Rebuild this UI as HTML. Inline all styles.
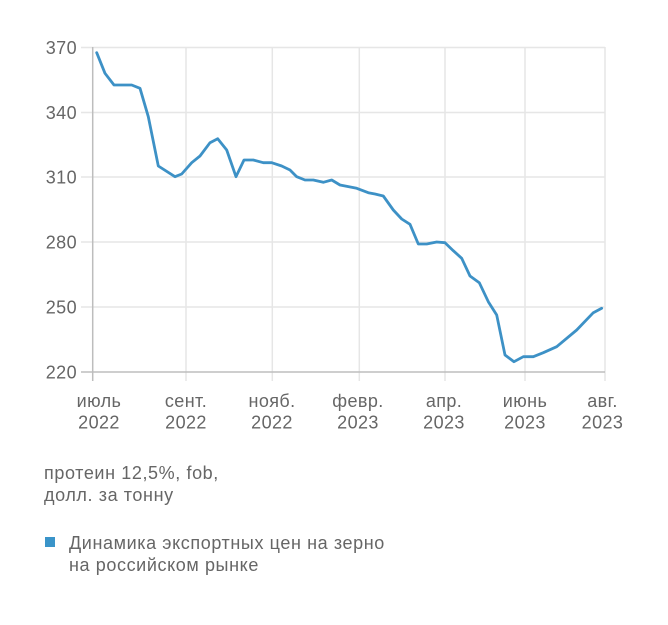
<!DOCTYPE html>
<html>
<head>
<meta charset="utf-8">
<style>
  html, body { margin:0; padding:0; background:#ffffff; }
  body { width:668px; height:620px; overflow:hidden; }
  svg text { font-family: "Liberation Sans", "DejaVu Sans", sans-serif; }
</style>
</head>
<body>
<svg width="668" height="620" viewBox="0 0 668 620" xmlns="http://www.w3.org/2000/svg">
  <rect width="668" height="620" fill="#ffffff"/>
  <!-- horizontal gridlines -->
  <g stroke="#e6e6e6" stroke-width="1.5">
    <line x1="81" y1="47.5" x2="605" y2="47.5"/>
    <line x1="81" y1="112.5" x2="605" y2="112.5"/>
    <line x1="81" y1="177" x2="605" y2="177"/>
    <line x1="81" y1="242" x2="605" y2="242"/>
    <line x1="81" y1="307" x2="605" y2="307"/>
  </g>
  <!-- vertical gridlines -->
  <g stroke="#e6e6e6" stroke-width="1.5">
    <line x1="186" y1="47" x2="186" y2="381"/>
    <line x1="272.3" y1="47" x2="272.3" y2="381"/>
    <line x1="359.3" y1="47" x2="359.3" y2="381"/>
    <line x1="445" y1="47" x2="445" y2="381"/>
    <line x1="525" y1="47" x2="525" y2="381"/>
    <line x1="605" y1="47" x2="605" y2="381"/>
  </g>
  <!-- axes -->
  <g stroke="#bdbdbd" stroke-width="1.5">
    <line x1="92.7" y1="47" x2="92.7" y2="381"/>
    <line x1="81" y1="372" x2="605" y2="372"/>
  </g>
  <!-- y labels -->
  <g fill="#666666" font-size="18" text-anchor="end" letter-spacing="0.4">
    <text x="77" y="54">370</text>
    <text x="77" y="119">340</text>
    <text x="77" y="183.5">310</text>
    <text x="77" y="248.5">280</text>
    <text x="77" y="313.5">250</text>
    <text x="77" y="378.5">220</text>
  </g>
  <!-- x labels -->
  <g fill="#666666" font-size="18" text-anchor="middle" letter-spacing="0.4">
    <text x="99" y="407">июль</text><text x="99" y="428.5">2022</text>
    <text x="186" y="407">сент.</text><text x="186" y="428.5">2022</text>
    <text x="272" y="407">нояб.</text><text x="272" y="428.5">2022</text>
    <text x="358" y="407">февр.</text><text x="358" y="428.5">2023</text>
    <text x="444" y="407">апр.</text><text x="444" y="428.5">2023</text>
    <text x="525" y="407">июнь</text><text x="525" y="428.5">2023</text>
    <text x="602.5" y="407">авг.</text><text x="602.5" y="428.5">2023</text>
  </g>
  <!-- series -->
  <polyline fill="none" stroke="#3d91c6" stroke-width="2.8" stroke-linejoin="round" stroke-linecap="round"
    points="96.7,52.7 105,73.3 114,85 131.7,85 140,88.3 148.3,116.7 158.3,166 175,176.7 181.7,174 191.7,162.7 200,156 210,142.7 217.7,138.7 226.7,150 236,176.7 244,160 253.3,160 263.3,162.7 271.7,162.7 281.7,166 290,170 296.7,176.7 305,180 313.3,180 323.3,182.3 331.7,180 340,185 356.7,188.3 368.3,192.7 375,194 383.3,196 393.3,210 401.7,219 410,224.3 418.3,244 426.7,244 436.7,242 445,242.7 453.3,250.7 461.7,258.3 470,276 479.3,282.7 488.3,301.7 496.7,315 505,355 514,361.7 523.3,356.7 533.3,356.7 543.3,352.7 556.7,346.7 576.7,330 593.3,312.7 601.7,308.3"/>
  <!-- unit note -->
  <g fill="#666666" font-size="18" letter-spacing="0.6">
    <text x="44" y="479">протеин 12,5%, fob,</text>
    <text x="44" y="501">долл. за тонну</text>
  </g>
  <!-- legend -->
  <rect x="45" y="537" width="10" height="10" fill="#3a94c9"/>
  <g fill="#666666" font-size="18" letter-spacing="0.6">
    <text x="69" y="549">Динамика экспортных цен на зерно</text>
    <text x="69" y="571">на российском рынке</text>
  </g>
</svg>
</body>
</html>
